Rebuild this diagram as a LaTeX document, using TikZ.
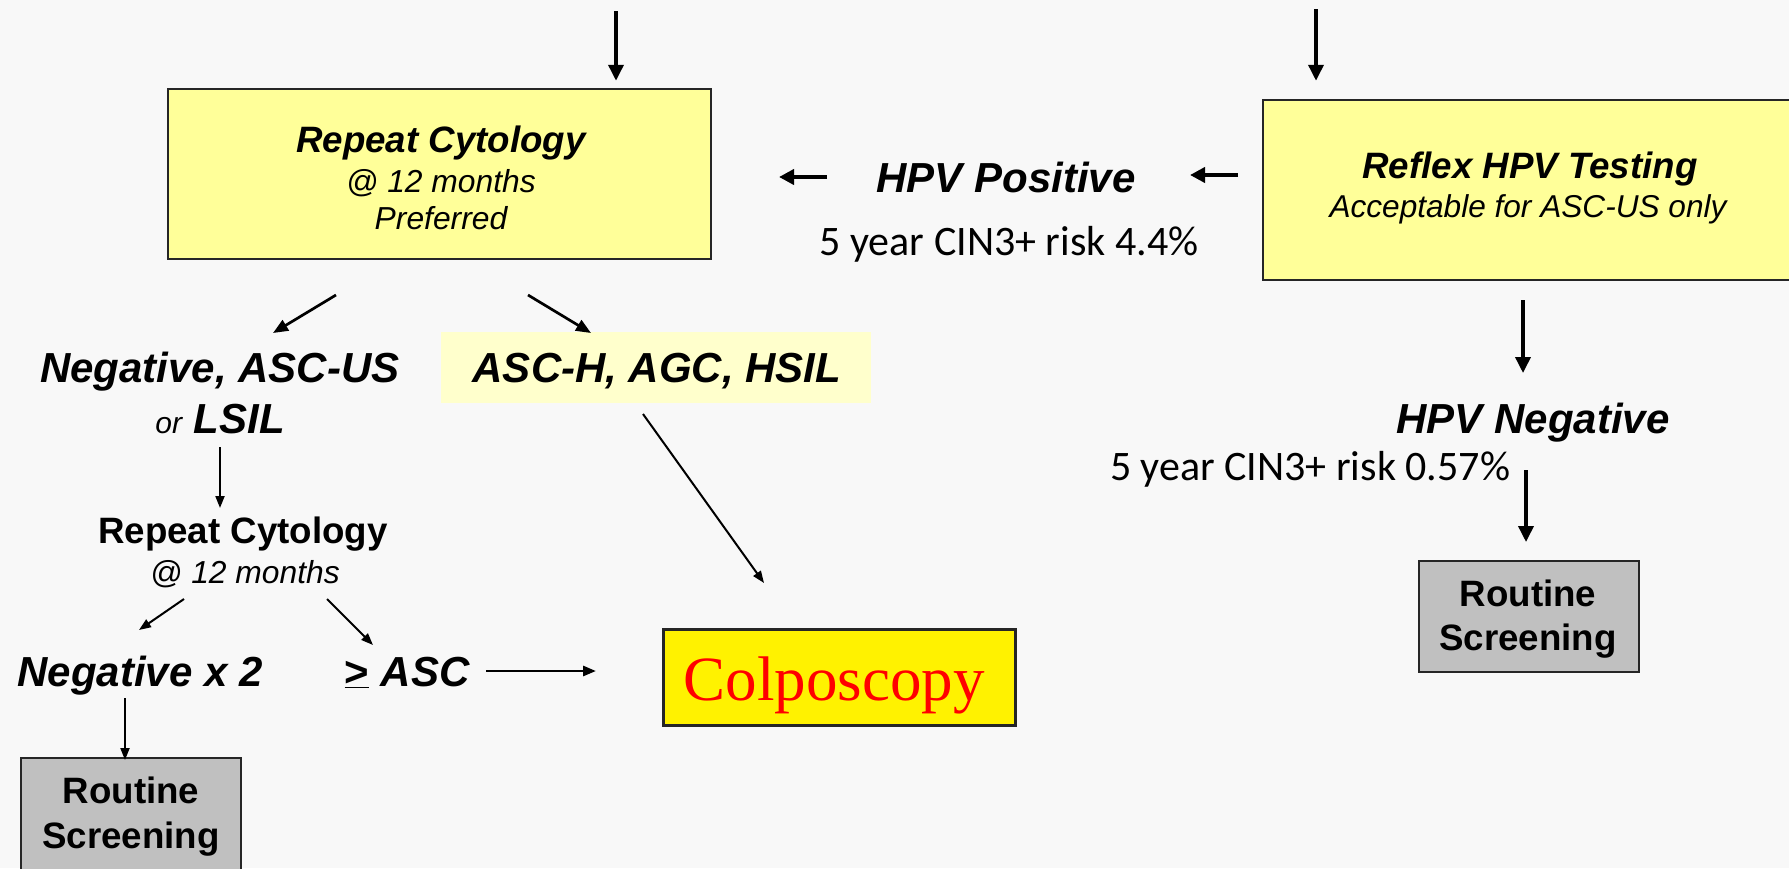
\documentclass[tikz,border=0pt]{standalone}
\usepackage{fontspec}
\setmainfont{Liberation Sans}
\newfontfamily\hvf{Liberation Sans}
\newfontfamily\calf{Carlito}
\newfontfamily\tmsf{Liberation Serif}
\usetikzlibrary{arrows.meta}
\newcommand\fsz[1]{\fontsize{#1}{#1}\selectfont}
\definecolor{bg}{HTML}{F8F8F8}
\definecolor{lyel}{HTML}{FFFF99}
\definecolor{pyel}{HTML}{FFFFCC}
\definecolor{gbox}{HTML}{C0C0C0}
\definecolor{edgec}{HTML}{262626}
\begin{document}
\begin{tikzpicture}[x=1pt,y=-1pt,
  txt/.style={inner sep=0pt, anchor=base},
  tBI/.style={txt, font=\hvf\bfseries\itshape\fsz{#1}},
  tIT/.style={txt, font=\hvf\itshape\fsz{#1}},
  tBD/.style={txt, font=\hvf\bfseries\fsz{#1}},
  risk/.style={txt, font=\calf\fsz{42}},
  ybox/.style={draw=edgec, line width=2.5pt, fill=lyel, inner sep=0pt},
  gboxs/.style={draw=edgec, line width=2.5pt, fill=gbox, inner sep=0pt},
  arrB/.style={line width=3.6pt, -{Triangle[length=16pt,width=15pt]}},
  arrF/.style={line width=4.5pt, -{Triangle[length=15pt,width=15pt]}},
  arrD/.style={line width=2.7pt, -{Triangle[length=15pt,width=12pt]}},
  arrM/.style={line width=2.8pt, -{Triangle[length=13pt,width=10pt]}},
  arrS/.style={line width=2pt, -{Triangle[length=12pt,width=9pt]}}
]
\fill[bg] (0,0) rectangle (1789,868);
\useasboundingbox (0,0) rectangle (1789,868);

% boxes
\node[ybox, minimum width=543pt, minimum height=170pt] (box1) at (439.5,174) {};
\node[ybox, minimum width=534pt, minimum height=180pt] (reflex) at (1530,190) {};
\node[fill=pyel, inner sep=0pt, minimum width=430pt, minimum height=71pt] (aschbox) at (656,367.5) {};
\node[draw=edgec, line width=3pt, fill=yellow, inner sep=0pt, minimum width=352pt, minimum height=96pt] (colpo) at (839,677) {};
\node[gboxs, minimum width=220pt, minimum height=111pt] (routR) at (1529,616.5) {};
\node[gboxs, minimum width=220pt, minimum height=112pt] (routL) at (131,814) {};

% texts
\node[tBI=36.7] (b1a) at (441,152) {Repeat Cytology};
\node[tIT=31.8] (b1b) at (441,192) {@ 12 months};
\node[tIT=31.8] (b1c) at (441,229) {Preferred};
\node[tBI=42] (hpvpos) at (1006,192) {HPV Positive};
\node[risk] (risk1) at (1009,255) {5 year CIN3+ risk 4.4\%};
\node[tBI=36.7] (rfa) at (1530,178) {Reflex HPV Testing};
\node[tIT=31.6] (rfb) at (1528,217) {Acceptable for ASC-US only};
\node[tBI=42] (hpvneg) at (1533,433) {HPV Negative};
\node[risk] (risk2) at (1310,480) {5 year CIN3+ risk 0.57\%};
\node[tBD=36.7] (rRa) at (1528,606) {Routine};
\node[tBD=36.7] (rRb) at (1528,650) {Screening};
\node[tBI=42] (asch) at (657,382) {ASC-H, AGC, HSIL};
\node[tBI=42] (negasc) at (220,382) {Negative, ASC-US};
\node[tBI=42] (lsil) at (220,433) {{\mdseries\fsz{30}or} LSIL};
\node[tBD=36.7] (rc2a) at (243,543) {Repeat Cytology};
\node[tIT=31.8] (rc2b) at (245,583) {@ 12 months};
\node[tBI=42] (negx2) at (140,686) {Negative x 2};
\node[tBI=42] (geasc) at (407,686) {{\upshape\underline{>}} ASC};
\node[txt, font=\tmsf\fsz{63}, text=red] (colpot) at (834,700) {Colposcopy};
\node[tBD=36.7] (rLa) at (131,803) {Routine};
\node[tBD=36.7] (rLb) at (131,848) {Screening};

% connector end points
\coordinate (in1) at (616,11);
\coordinate (in2) at (1316,9);
\coordinate (p3s) at (827,177); \coordinate (p3e) at (779,177);
\coordinate (p4s) at (1238,175); \coordinate (p4e) at (1190,175);
\coordinate (p5s) at (1523,300); \coordinate (p5e) at (1523,373);
\coordinate (p6s) at (1526,470); \coordinate (p6e) at (1526,542);
\coordinate (p7s) at (336,295); \coordinate (p7e) at (273,333);
\coordinate (p8s) at (528,295); \coordinate (p8e) at (591,333);
\coordinate (p9s) at (643,414); \coordinate (p9e) at (764,583);
\coordinate (p10s) at (220,447); \coordinate (p10e) at (220,508);
\coordinate (p11s) at (184,599); \coordinate (p11e) at (139,630);
\coordinate (p12s) at (327,599); \coordinate (p12e) at (373,645);
\coordinate (p13s) at (486,671); \coordinate (p13e) at (596,671);
\coordinate (p14s) at (125,698); \coordinate (p14e) at (125,760);

% connectors
\draw[arrB] (in1) -- (in1 |- box1.north) [shorten >=7pt];
\draw[arrB] (in2) -- (in2 |- reflex.north) [shorten >=18pt];
\draw[arrF] (p3s) -- (p3e);
\draw[arrF] (p4s) -- (p4e);
\draw[arrB] (p5s) -- (p5e);
\draw[arrB] (p6s) -- (p6e);
\draw[arrD] (p7s) -- (p7e);
\draw[arrD] (p8s) -- (p8e);
\draw[arrS] (p9s) -- (p9e);
\draw[arrS] (p10s) -- (p10e);
\draw[arrS] (p11s) -- (p11e);
\draw[arrS] (p12s) -- (p12e);
\draw[arrM] (p13s) -- (p13e);
\draw[arrS] (p14s) -- (p14e);
\end{tikzpicture}
\end{document}
